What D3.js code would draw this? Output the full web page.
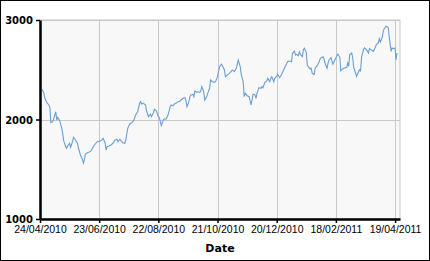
<!DOCTYPE html>
<html>
<head>
<meta charset="utf-8">
<script src="https://d3js.org/d3.v7.min.js"></script>
<style>
  body { margin: 0; background: #fff; }
  .y-axis text { font: bold 10px "DejaVu Sans", sans-serif; }
  .x-axis text { font: 10.5px "Liberation Sans", Arial, sans-serif; }
</style>
</head>
<body>
<div id="chart"></div>
<script>
// data
const dates = [
  "2010-04-26","2010-04-28","2010-04-29","2010-05-01","2010-05-03","2010-05-04","2010-05-05","2010-05-07","2010-05-08","2010-05-10",
  "2010-05-11","2010-05-12","2010-05-14","2010-05-16","2010-05-17","2010-05-18","2010-05-20","2010-05-21","2010-05-22","2010-05-24",
  "2010-05-25","2010-05-27","2010-05-28","2010-05-30","2010-06-01","2010-06-02","2010-06-04","2010-06-06","2010-06-07","2010-06-08",
  "2010-06-09","2010-06-11","2010-06-13","2010-06-15","2010-06-17","2010-06-19","2010-06-21","2010-06-25","2010-06-27","2010-06-29",
  "2010-06-30","2010-07-01","2010-07-03","2010-07-05","2010-07-07","2010-07-09","2010-07-11","2010-07-12","2010-07-14","2010-07-15",
  "2010-07-17","2010-07-19","2010-07-20","2010-07-22","2010-07-24","2010-07-26","2010-07-28","2010-07-30","2010-07-31","2010-08-01",
  "2010-08-03","2010-08-04","2010-08-05","2010-08-07","2010-08-09","2010-08-10","2010-08-12","2010-08-14","2010-08-15","2010-08-17",
  "2010-08-18","2010-08-20","2010-08-22","2010-08-23","2010-08-25","2010-08-27","2010-08-28","2010-08-30","2010-09-01","2010-09-03",
  "2010-09-04","2010-09-06","2010-09-08","2010-09-09","2010-09-11","2010-09-13","2010-09-14","2010-09-16","2010-09-18","2010-09-19",
  "2010-09-20","2010-09-22","2010-09-23","2010-09-24","2010-09-26","2010-09-27","2010-09-28","2010-09-30","2010-10-01","2010-10-03",
  "2010-10-04","2010-10-05","2010-10-07","2010-10-08","2010-10-10","2010-10-11","2010-10-13","2010-10-14","2010-10-15","2010-10-17",
  "2010-10-18","2010-10-19","2010-10-21","2010-10-23","2010-10-25","2010-10-26","2010-10-28","2010-10-29","2010-10-31","2010-11-02",
  "2010-11-04","2010-11-05","2010-11-07","2010-11-09","2010-11-10","2010-11-11","2010-11-13","2010-11-14","2010-11-16","2010-11-17",
  "2010-11-18","2010-11-20","2010-11-22","2010-11-24","2010-11-25","2010-11-26","2010-11-28","2010-11-29","2010-11-30","2010-12-02",
  "2010-12-04","2010-12-05","2010-12-06","2010-12-08","2010-12-10","2010-12-11","2010-12-13","2010-12-14","2010-12-15","2010-12-17",
  "2010-12-18","2010-12-20","2010-12-21","2010-12-23","2010-12-25","2010-12-27","2010-12-29","2010-12-31","2011-01-02","2011-01-04",
  "2011-01-05","2011-01-07","2011-01-08","2011-01-09","2011-01-11","2011-01-12","2011-01-13","2011-01-15","2011-01-16","2011-01-17",
  "2011-01-19","2011-01-20","2011-01-21","2011-01-23","2011-01-24","2011-01-25","2011-01-27","2011-01-28","2011-01-30","2011-02-01",
  "2011-02-02","2011-02-03","2011-02-05","2011-02-06","2011-02-07","2011-02-09","2011-02-10","2011-02-11","2011-02-13","2011-02-14",
  "2011-02-15","2011-02-17","2011-02-18","2011-02-19","2011-02-20","2011-02-22","2011-02-23","2011-02-25","2011-02-27","2011-03-01",
  "2011-03-02","2011-03-03","2011-03-04","2011-03-06","2011-03-07","2011-03-08","2011-03-10","2011-03-11","2011-03-12","2011-03-14",
  "2011-03-15","2011-03-16","2011-03-18","2011-03-19","2011-03-21","2011-03-23","2011-03-24","2011-03-26","2011-03-28","2011-03-30",
  "2011-03-31","2011-04-02","2011-04-03","2011-04-04","2011-04-06","2011-04-07","2011-04-08","2011-04-10","2011-04-12","2011-04-13",
  "2011-04-15","2011-04-16","2011-04-17","2011-04-19","2011-04-20","2011-04-21"
];
const values = [
  2304,2263,2213,2169,2146,2123,1968,1978,2012,2078,
  1995,2022,1988,1912,1861,1787,1727,1711,1734,1761,
  1721,1777,1821,1794,1761,1711,1643,1600,1560,1593,
  1653,1666,1673,1686,1727,1754,1777,1787,1811,1767,
  1693,1727,1734,1744,1761,1794,1801,1777,1801,1787,
  1767,1761,1794,1912,1955,1968,1988,2045,2062,2078,
  2163,2179,2156,2163,2146,2088,2028,2055,2028,2068,
  2103,2088,2028,2018,1938,1995,2005,2005,2052,2129,
  2146,2139,2163,2163,2179,2186,2196,2213,2219,2186,
  2129,2179,2229,2246,2253,2229,2286,2273,2279,2273,
  2286,2330,2279,2196,2229,2263,2314,2397,2387,2374,
  2374,2380,2430,2531,2555,2541,2498,2430,2447,2464,
  2487,2498,2480,2515,2555,2598,2531,2454,2380,2229,
  2263,2239,2229,2146,2196,2253,2246,2213,2263,2320,
  2314,2330,2320,2374,2387,2414,2380,2414,2430,2380,
  2414,2437,2454,2420,2454,2498,2541,2581,2588,2581,
  2665,2688,2648,2655,2641,2681,2655,2631,2698,2716,
  2675,2548,2531,2508,2515,2464,2454,2515,2541,2581,
  2608,2621,2631,2608,2565,2515,2565,2598,2621,2588,
  2555,2598,2621,2641,2658,2625,2490,2511,2518,2525,
  2568,2535,2651,2668,2625,2525,2467,2434,2457,2500,
  2490,2625,2702,2719,2702,2668,2712,2698,2685,2726,
  2752,2769,2812,2779,2826,2886,2913,2937,2927,2836,
  2685,2719,2712,2719,2601,2668
];
const xTickLabels = ["24/04/2010","23/06/2010","22/08/2010","21/10/2010","20/12/2010","18/02/2011","19/04/2011"];
const yTicks = [1000, 2000, 3000];
const xStart = "24/04/2010", xEnd = "24/04/2011";
const xTitle = "Date";

const W = 430, H = 261;
const margin = { top: 20, right: 30, bottom: 42, left: 40 };
const width = W - margin.left - margin.right,
      height = H - margin.top - margin.bottom;

const parseIso = d3.timeParse("%Y-%m-%d");
const parseLabel = d3.timeParse("%d/%m/%Y");
const fmt = d3.timeFormat("%d/%m/%Y");
const data = dates.map((d, i) => ({ date: parseIso(d), value: values[i] }));

const svg = d3.select("#chart").append("svg")
  .attr("width", W).attr("height", H);

// outer frame
svg.append("rect")
  .attr("x", 0.5).attr("y", 0.5)
  .attr("width", W - 1).attr("height", H - 1)
  .attr("fill", "#fff").attr("stroke", "#000");

const g = svg.append("g")
  .attr("transform", `translate(${margin.left},${margin.top})`);

const x = d3.scaleTime()
  .domain([parseLabel(xStart), parseLabel(xEnd)])
  .range([0, width]);
const y = d3.scaleLinear()
  .domain([1000, 3000])
  .range([height, 0]);

// plot background
g.append("rect")
  .attr("width", width).attr("height", height)
  .attr("fill", "#f8f8f8")
  .attr("stroke", "#c8c8c8");

// grid
g.append("g").selectAll("line")
  .data(xTickLabels.map(parseLabel))
  .join("line")
  .attr("x1", d => Math.round(x(d)) + 0.5).attr("x2", d => Math.round(x(d)) + 0.5)
  .attr("y1", 0).attr("y2", height)
  .attr("stroke", "#c8c8c8");
g.append("g").selectAll("line")
  .data(yTicks)
  .join("line")
  .attr("x1", 0).attr("x2", width)
  .attr("y1", d => Math.round(y(d)) + 0.5).attr("y2", d => Math.round(y(d)) + 0.5)
  .attr("stroke", "#c8c8c8");

// line
g.append("path")
  .datum(data)
  .attr("fill", "none")
  .attr("stroke", "#6a9ed6")
  .attr("stroke-width", 1.1)
  .attr("d", d3.line().x(d => x(d.date)).y(d => y(d.value)));

// axes
const xAxis = g.append("g")
  .attr("class", "x-axis")
  .attr("transform", `translate(0,${height})`)
  .call(d3.axisBottom(x)
    .tickValues(xTickLabels.map(parseLabel))
    .tickFormat(fmt)
    .tickSize(4).tickSizeOuter(0)
    .tickPadding(3));
xAxis.select(".domain").attr("stroke-width", 2.5);
xAxis.selectAll(".tick line").attr("stroke-width", 1.5);
xAxis.selectAll("text").attr("fill", "#000");

const yAxis = g.append("g")
  .attr("class", "y-axis")
  .call(d3.axisLeft(y)
    .tickValues(yTicks)
    .tickFormat(d3.format("d"))
    .tickSize(4).tickSizeOuter(0)
    .tickPadding(3));
yAxis.select(".domain").attr("stroke-width", 2.5);
yAxis.selectAll(".tick line").attr("stroke-width", 1.5);
yAxis.selectAll("text").attr("fill", "#000").attr("dy", "0.35em");

// axis title
g.append("text")
  .attr("x", width / 2)
  .attr("y", height + 33)
  .attr("text-anchor", "middle")
  .style("font", "bold 11px 'DejaVu Sans', sans-serif")
  .text(xTitle);
</script>
</body>
</html>
